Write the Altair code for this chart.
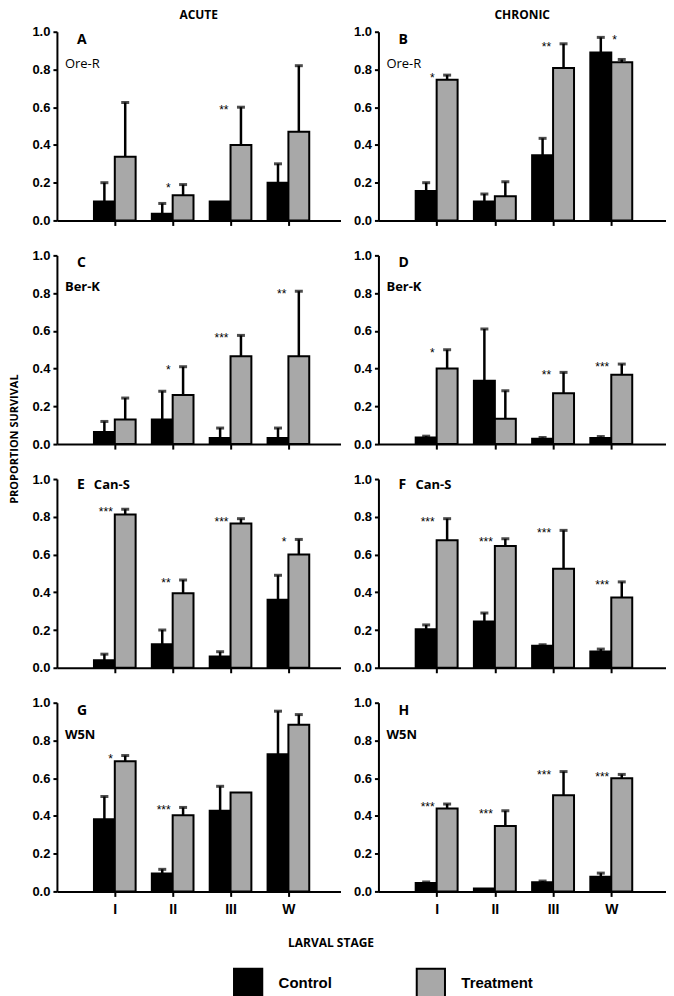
import altair as alt
import pandas as pd

stages = ["I", "II", "III", "W"]
groups = ["Control", "Treatment"]
colors = ["#000000", "#a8a8a8"]

# Panel A (Acute, Ore-R)
a_ctrl = [0.10, 0.035, 0.10, 0.20]
a_ctrl_top = [0.20, 0.09, 0.10, 0.30]
a_trt = [0.337, 0.133, 0.40, 0.47]
a_trt_top = [0.625, 0.19, 0.60, 0.82]
a_stars = ["", "*", "**", ""]
# Panel B (Chronic, Ore-R)
b_ctrl = [0.156, 0.10, 0.346, 0.89]
b_ctrl_top = [0.20, 0.14, 0.435, 0.97]
b_trt = [0.746, 0.128, 0.808, 0.838]
b_trt_top = [0.77, 0.205, 0.936, 0.853]
b_stars = ["*", "", "**", "*"]
# Panel C (Acute, Ber-K)
c_ctrl = [0.064, 0.13, 0.032, 0.032]
c_ctrl_top = [0.12, 0.28, 0.085, 0.085]
c_trt = [0.13, 0.26, 0.465, 0.465]
c_trt_top = [0.244, 0.41, 0.576, 0.81]
c_stars = ["", "*", "***", "**"]
# Panel D (Chronic, Ber-K)
d_ctrl = [0.035, 0.336, 0.028, 0.032]
d_ctrl_top = [0.042, 0.61, 0.035, 0.04]
d_trt = [0.40, 0.134, 0.27, 0.367]
d_trt_top = [0.50, 0.283, 0.38, 0.424]
d_stars = ["*", "", "**", "***"]
# Panel E (Acute, Can-S)
e_ctrl = [0.04, 0.125, 0.06, 0.36]
e_ctrl_top = [0.072, 0.20, 0.085, 0.49]
e_trt = [0.812, 0.395, 0.765, 0.60]
e_trt_top = [0.84, 0.465, 0.79, 0.68]
e_stars = ["***", "**", "***", "*"]
# Panel F (Chronic, Can-S)
f_ctrl = [0.204, 0.245, 0.116, 0.086]
f_ctrl_top = [0.227, 0.29, 0.122, 0.099]
f_trt = [0.675, 0.645, 0.525, 0.372]
f_trt_top = [0.79, 0.683, 0.728, 0.455]
f_stars = ["***", "***", "***", "***"]
# Panel G (Acute, W5N)
g_ctrl = [0.382, 0.095, 0.427, 0.727]
g_ctrl_top = [0.503, 0.117, 0.557, 0.955]
g_trt = [0.69, 0.404, 0.524, 0.883]
g_trt_top = [0.72, 0.445, 0.524, 0.937]
g_stars = ["*", "***", "", ""]
# Panel H (Chronic, W5N)
h_ctrl = [0.044, 0.016, 0.048, 0.078]
h_ctrl_top = [0.05, 0.016, 0.055, 0.097]
h_trt = [0.44, 0.347, 0.51, 0.60]
h_trt_top = [0.463, 0.427, 0.635, 0.62]
h_stars = ["***", "***", "***", "***"]
y_ticks = [0.0, 0.2, 0.4, 0.6, 0.8, 1.0]

TXT = "Liberation Sans"
HW = 0.36


def make_panel(ctrl, ctrl_top, trt, trt_top, stars, letter, strain, strain_bold,
               inline, width, xmax, title=None, bottom=False, star_left=None, xtitle=None):
    star_left = star_left or [False] * 4
    bar_rows, err_rows, star_rows = [], [], []
    for i, s in enumerate(stages):
        pos = i + 1
        for g, m, t, x0, x1 in [
            ("Control", ctrl[i], ctrl_top[i], pos - HW, pos),
            ("Treatment", trt[i], trt_top[i], pos, pos + HW),
        ]:
            bar_rows.append({"stage": s, "group": g, "x0": x0, "x1": x1, "mean": m, "zero": 0.0})
            if t - m > 0.004:
                err_rows.append({"xc": (x0 + x1) / 2, "mean": m, "top": t})
        if stars[i]:
            star_rows.append({"x": pos, "y": max(ctrl_top[i], trt_top[i]), "t": stars[i],
                              "left": star_left[i]})
    bars_df = pd.DataFrame(bar_rows)
    err_df = pd.DataFrame(err_rows)
    star_df = pd.DataFrame(star_rows)

    xscale = alt.Scale(domain=[0, xmax], nice=False, zero=False)
    yscale = alt.Scale(domain=[0, 1], nice=False)
    xkw = dict(values=[1, 2, 3, 4], labels=bottom,
               labelExpr="['','I','II','III','W'][datum.value]",
               labelFontSize=14, labelPadding=6, tickSize=5, labelFontWeight="bold")
    if xtitle:
        xaxis = alt.Axis(title=xtitle, titleX=274, titleY=51, titleAlign="center",
                         titleBaseline="middle", titleFont="Open Sans", titleFontSize=12,
                         titleFontWeight="bold", titleColor="black", **xkw)
    else:
        xaxis = alt.Axis(title=None, **xkw)
    yaxis = alt.Axis(values=y_ticks, format=".1f", title=None, tickCount=6,
                     labelOverlap=False, labelFontSize=13, labelFontWeight="bold")

    bars = alt.Chart(bars_df).mark_rect(stroke="black", strokeWidth=2).encode(
        x=alt.X("x0:Q", scale=xscale, axis=xaxis),
        x2="x1",
        y=alt.Y("mean:Q", scale=yscale, axis=yaxis),
        y2="zero",
        color=alt.Color("group:N", scale=alt.Scale(domain=groups, range=colors),
                        legend=alt.Legend(title=None)),
    )
    err = alt.Chart(err_df).mark_rule(color="black", strokeWidth=2.5).encode(
        x=alt.X("xc:Q", scale=xscale, axis=xaxis), y=alt.Y("mean:Q", scale=yscale, axis=yaxis),
        y2="top")
    caps = alt.Chart(err_df).mark_tick(color="black", orient="horizontal", size=8,
                                       thickness=3).encode(
        x=alt.X("xc:Q", scale=xscale, axis=xaxis), y=alt.Y("top:Q", scale=yscale, axis=yaxis))
    layers = [bars, err, caps]
    if len(star_df):
        sr = star_df[~star_df["left"]]
        sl = star_df[star_df["left"]]
        if len(sr):
            layers.append(alt.Chart(sr).mark_text(align="right", baseline="middle", dx=-2, dy=3,
                                                  font=TXT, fontSize=12, color="black").encode(
                x=alt.X("x:Q", scale=xscale, axis=xaxis), y=alt.Y("y:Q", scale=yscale, axis=yaxis),
                text="t:N"))
        if len(sl):
            layers.append(alt.Chart(sl).mark_text(align="left", baseline="middle", dx=1, dy=3,
                                                  font=TXT, fontSize=12, color="black").encode(
                x=alt.X("x:Q", scale=xscale, axis=xaxis), y=alt.Y("y:Q", scale=yscale, axis=yaxis),
                text="t:N"))
    lab = alt.Chart(pd.DataFrame({"t": [letter]})).mark_text(
        align="left", baseline="middle", font="Open Sans", fontSize=14, fontWeight="bold",
        color="black").encode(x=alt.value(20), y=alt.value(8 if not inline else 6), text="t:N")
    layers.append(lab)
    if inline:
        sx, sy = 37, 6
    else:
        sx, sy = 8, 32
    st = alt.Chart(pd.DataFrame({"t": [strain]})).mark_text(
        align="left", baseline="middle", font="Open Sans", fontSize=13,
        fontWeight="bold" if strain_bold else "normal", color="black").encode(
        x=alt.value(sx), y=alt.value(sy), text="t:N")
    layers.append(st)
    props = dict(width=width, height=189)
    if title:
        props["title"] = alt.TitleParams(title, font="Open Sans", fontSize=12, fontWeight="bold",
                                         anchor="middle", offset=4, color="black")
    return alt.layer(*layers).properties(**props)


LW, LX = 284, 4.9
RW, RX = 288, 4.94
A = make_panel(a_ctrl, a_ctrl_top, a_trt, a_trt_top, a_stars, "A", "Ore-R", False, False, LW, LX, title="ACUTE")
B = make_panel(b_ctrl, b_ctrl_top, b_trt, b_trt_top, b_stars, "B", "Ore-R", False, False, RW, RX, title="CHRONIC",
               star_left=[False, False, False, True])
C = make_panel(c_ctrl, c_ctrl_top, c_trt, c_trt_top, c_stars, "C", "Ber-K", True, False, LW, LX)
D = make_panel(d_ctrl, d_ctrl_top, d_trt, d_trt_top, d_stars, "D", "Ber-K", True, False, RW, RX)
E = make_panel(e_ctrl, e_ctrl_top, e_trt, e_trt_top, e_stars, "E", "Can-S", True, True, LW, LX)
F = make_panel(f_ctrl, f_ctrl_top, f_trt, f_trt_top, f_stars, "F", "Can-S", True, True, RW, RX)
G = make_panel(g_ctrl, g_ctrl_top, g_trt, g_trt_top, g_stars, "G", "W5N", True, False, LW, LX, bottom=True,
               xtitle="LARVAL STAGE")
H = make_panel(h_ctrl, h_ctrl_top, h_trt, h_trt_top, h_stars, "H", "W5N", True, False, RW, RX, bottom=True)

HS = 38
grid = alt.vconcat(
    alt.hconcat(A, B, spacing=HS, bounds="flush"),
    alt.hconcat(C, D, spacing=HS, bounds="flush"),
    alt.hconcat(E, F, spacing=HS, bounds="flush"),
    alt.hconcat(G, H, spacing=HS, bounds="flush"),
    spacing=22,
)

ylab = alt.Chart(pd.DataFrame({"t": ["PROPORTION SURVIVAL"]})).mark_text(
    angle=270, align="center", baseline="middle", font="Open Sans", fontSize=11,
    fontWeight="bold", color="black").encode(
    x=alt.value(7), y=alt.value(408), text="t:N").properties(width=14, height=860)

chart = alt.hconcat(ylab, grid, spacing=9).properties(
    padding={"left": 0, "top": 0, "right": 0, "bottom": 0}
).configure_view(
    stroke=None
).configure_axis(
    domainColor="black", domainWidth=2, tickColor="black", tickWidth=2, tickSize=4,
    labelFont=TXT, labelFontWeight="bold", labelFontSize=13, labelColor="black",
    labelPadding=3, grid=False, labelOverlap=False,
).configure_legend(
    orient="none", legendX=225, legendY=937, direction="horizontal",
    symbolType="square", symbolSize=800, symbolStrokeColor="black", symbolStrokeWidth=2,
    symbolOpacity=1, labelFont=TXT, labelFontSize=15, labelFontWeight="bold", labelColor="black",
    labelOffset=15, columnPadding=80,
)

chart.save("out.html", embed_options={"renderer": "svg", "actions": False})
